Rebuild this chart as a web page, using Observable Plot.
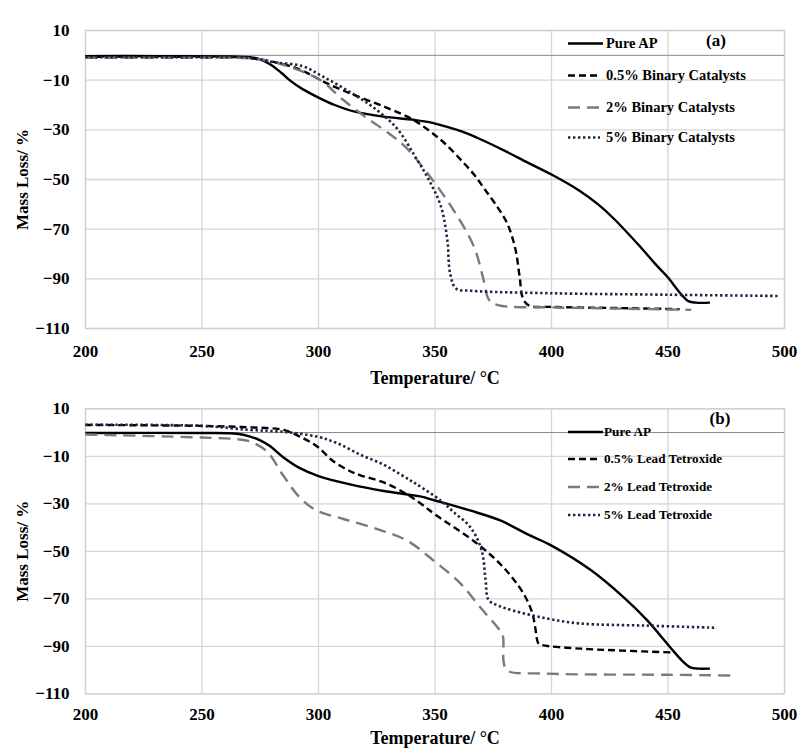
<!DOCTYPE html>
<html>
<head>
<meta charset="utf-8">
<script src="https://cdn.jsdelivr.net/npm/d3@7"></script>
<script src="https://cdn.jsdelivr.net/npm/@observablehq/plot@0.6"></script>
<style>
  html, body { margin: 0; padding: 0; background: #fff; }
  #wrap { position: relative; width: 800px; height: 748px; font-family: "Liberation Serif", "Times New Roman", serif; font-weight: bold; color: #000; }
  #wrap svg { display: block; overflow: visible; }
  .legend { position: absolute; left: 0; top: 0; }
  .row { position: absolute; display: flex; align-items: center; white-space: nowrap; transform: translateY(-50%); }
  .row svg { display: block; }
  .tag { position: absolute; transform: translate(-50%, -50%); font-size: 17px; }
</style>
</head>
<body>
<div id="wrap"></div>
<script>
// ---------- shared ticks ----------
const xTicks = [200, 250, 300, 350, 400, 450, 500];
const yTicks = [10, -10, -30, -50, -70, -90, -110];

// ---------- panel (a): binary catalysts ----------
const aLabels = ["Pure AP", "0.5% Binary Catalysts", "2% Binary Catalysts", "5% Binary Catalysts"];
const aPureT = [200, 230, 260, 268, 274, 279, 284, 288, 293, 300, 307, 316, 328, 341, 348, 354, 362, 370, 380, 390, 400, 412, 420, 427, 438, 445, 450, 455, 458.7, 462, 468];
const aPureV = [-0.3, -0.3, -0.4, -0.6, -1.3, -3.5, -7, -10.3, -13.5, -17, -20, -22.8, -24.7, -26, -27, -28.5, -30.8, -34, -38.5, -43.3, -48, -54.5, -60, -66, -77, -84.5, -89.5, -95.5, -99, -99.6, -99.6];
const a05T = [200, 250, 268, 280, 290, 296, 302.8, 314, 328.5, 340, 347, 354, 362, 367, 371, 376, 381, 384.5, 386.3, 387.8, 390.5, 400, 430, 455];
const a05V = [-0.6, -0.6, -0.9, -2.5, -5, -7.5, -10.9, -15.5, -20.8, -25.6, -30, -35.3, -43, -48.3, -53.5, -60, -67.7, -78, -89, -98, -100.8, -101.3, -101.8, -102.2];
const a2T = [200, 250, 270, 280, 287, 293, 301.4, 310, 320, 330, 337, 348, 358, 366.7, 370.5, 373.3, 377, 400, 430, 460];
const a2V = [-1, -1, -1.2, -2.5, -4.5, -6.5, -10.3, -17.5, -24.7, -31.3, -36.6, -49, -62.4, -77, -89, -98.6, -100.6, -101.5, -102, -102.5];
const a5T = [200, 250, 270, 281, 293, 301.4, 311.4, 321.4, 328.5, 334.2, 341.3, 347, 352.6, 355.3, 356.5, 359, 365.5, 400, 450, 497];
const a5V = [-0.8, -0.8, -1, -2.8, -4.3, -8.3, -13.6, -19.5, -24.7, -30, -40.5, -49.5, -61, -74.5, -87.8, -93.9, -94.8, -95.8, -96.4, -96.9];

// ---------- panel (b): lead tetroxide ----------
const bLabels = ["Pure AP", "0.5% Lead Tetroxide", "2% Lead Tetroxide", "5% Lead Tetroxide"];
const bPureT = [200, 250, 265, 270.7, 275, 279.3, 285, 292, 300, 313.6, 328, 343.6, 350, 365, 378, 390, 400, 417, 431, 441, 451, 456, 459.6, 463, 468];
const bPureV = [-0.2, -0.2, -0.5, -1.7, -3.3, -5.8, -10.5, -15, -18.3, -21.8, -24.6, -26.9, -28.6, -32.8, -37, -43, -47.6, -58, -69.4, -79, -90.5, -96, -98.9, -99.4, -99.4];
const b05T = [200, 250, 270, 285, 292, 299.3, 306.4, 313.6, 318, 328, 338, 344, 350, 368, 379.4, 388, 391.8, 393, 394.4, 396, 412.4, 430, 452.4];
const b05V = [3.2, 2.8, 2.2, 1.1, -1.7, -5.8, -12.1, -16.3, -18, -21, -26, -30, -34.5, -46.7, -56.8, -67.8, -76.2, -82, -88.8, -89.5, -91, -91.8, -92.6];
const b2T = [200, 250, 265, 270.7, 277.8, 285, 292, 299.3, 310.7, 325, 338, 349.4, 361, 369.5, 376.8, 379, 379.5, 381, 398, 450, 478];
const b2V = [-0.8, -2.1, -2.8, -3.8, -7.9, -18.3, -27.4, -32.9, -36.4, -40.6, -45.5, -53.9, -63.6, -73.7, -82, -85, -96.8, -100.2, -101.5, -102, -102.3];
const b5T = [200, 250, 270.7, 285, 299.3, 307.9, 317.9, 327.9, 335, 339.5, 342.2, 352.4, 358, 365.2, 370, 371.7, 373, 377, 383.7, 398, 412.4, 441, 471];
const b5V = [3.3, 2.8, 1.1, 0.3, -1.7, -4.4, -9.3, -13.5, -17.5, -20.2, -21.8, -28.6, -33.5, -39.9, -49.5, -62, -70.5, -72.8, -75, -78.3, -80.4, -81.3, -82.2];

// ---------- styles per series ----------
const seriesStyle = [
  {stroke: "#000000", dash: null, width: 2.4},
  {stroke: "#000000", dash: "7,4", width: 2.4},
  {stroke: "#7a7a7a", dash: "12,7", width: 2.4},
  {stroke: "#1a2744", dash: "2.4,2.6", width: 2.6}
];

const FONT = "'Liberation Serif', 'Times New Roman', serif";
const wrap = document.getElementById("wrap");

function table(T, V) { return T.map((t, i) => ({T: t, v: V[i]})); }

function panel({series, height, marginTop, marginBottom, tickPad, labelOff}) {
  return Plot.plot({
    width: 800, height, marginTop, marginBottom, marginLeft: 85, marginRight: 16,
    x: {domain: [200, 500]},
    y: {domain: [-110, 10]},
    style: {fontFamily: FONT, fontWeight: "bold", color: "#000", background: "#fff", overflow: "visible"},
    marks: [
      Plot.gridX(xTicks, {stroke: "#d6d6d6", strokeOpacity: 1, strokeWidth: 1.3}),
      Plot.gridY(yTicks, {stroke: "#d6d6d6", strokeOpacity: 1, strokeWidth: 1.3}),
      Plot.frame({stroke: "#d0d0d0", strokeWidth: 1.3}),
      Plot.ruleY([0], {stroke: "#8a8a8a", strokeWidth: 1}),
      ...series.map((d, i) => Plot.line(d, {
        x: "T", y: "v", curve: "catmull-rom",
        stroke: seriesStyle[i].stroke,
        strokeWidth: seriesStyle[i].width,
        strokeDasharray: seriesStyle[i].dash,
        strokeLinecap: "butt"
      })),
      Plot.axisX(xTicks, {tickSize: 0, tickPadding: tickPad, fontSize: 17, label: null}),
      Plot.axisX([], {tickSize: 0, label: "Temperature/ °C", labelAnchor: "center", labelOffset: labelOff, labelArrow: "none", fontSize: 18}),
      Plot.axisY(yTicks, {tickSize: 0, tickPadding: 16, fontSize: 17, label: null}),
      Plot.axisY([], {tickSize: 0, label: "Mass Loss/ %", labelAnchor: "center", labelOffset: 70, labelArrow: "none", fontSize: 17})
    ]
  });
}

const chartA = panel({
  series: [table(aPureT, aPureV), table(a05T, a05V), table(a2T, a2V), table(a5T, a5V)],
  height: 390, marginTop: 30, marginBottom: 62, tickPad: 16, labelOff: 55
});
const chartB = panel({
  series: [table(bPureT, bPureV), table(b05T, b05V), table(b2T, b2V), table(b5T, b5V)],
  height: 358, marginTop: 18.3, marginBottom: 54.7, tickPad: 14, labelOff: 50
});
wrap.appendChild(chartA);
wrap.appendChild(chartB);

// ---------- legends (HTML overlay) ----------
function legend(labels, rowsY, swLeft, swWidth, textGap, fontSize) {
  const box = document.createElement("div");
  box.className = "legend";
  labels.forEach((lab, i) => {
    const row = document.createElement("div");
    row.className = "row";
    row.style.left = swLeft + "px";
    row.style.top = rowsY[i] + "px";
    row.style.fontSize = fontSize + "px";
    const s = seriesStyle[i];
    const w = i === 0 ? swWidth + 3 : swWidth;
    row.innerHTML = `<svg width="${w}" height="8"><line x1="0" x2="${w}" y1="4" y2="4" stroke="${s.stroke}" stroke-width="${s.width}" ${s.dash ? `stroke-dasharray="${s.dash}"` : ""}/></svg><span style="margin-left:${i === 0 ? textGap - 3 : textGap}px">${lab}</span>`;
    box.appendChild(row);
  });
  wrap.appendChild(box);
}
legend(aLabels, [43, 75, 107, 137], 568, 32, 6, 14.5);
legend(bLabels, [432, 459, 487, 515], 568, 32, 4, 13.2);

function tag(text, x, y) {
  const t = document.createElement("div");
  t.className = "tag";
  t.style.left = x + "px";
  t.style.top = y + "px";
  t.textContent = text;
  wrap.appendChild(t);
}
tag("(a)", 716, 41);
tag("(b)", 720, 419);
</script>
</body>
</html>
